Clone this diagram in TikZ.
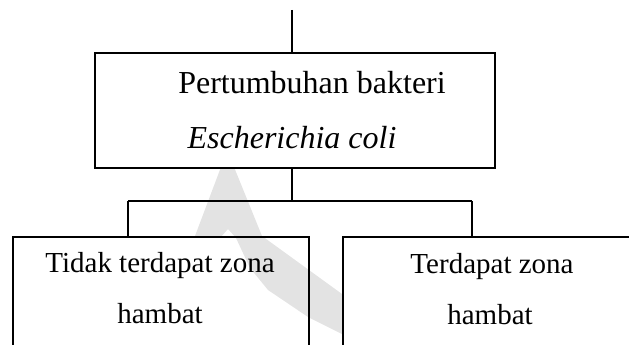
\documentclass[tikz,border=0pt]{standalone}
\usepackage{fontspec}
\setmainfont{Liberation Serif}
\begin{document}
\begin{tikzpicture}[x=1pt,y=-1pt,
  box/.style={draw=black, line width=1.5pt, inner sep=0pt, anchor=north west},
  link/.style={draw=black, line width=1.5pt},
  toptext/.style={font=\fontsize{32}{38}\selectfont, anchor=base, inner sep=0pt},
  lowtext/.style={font=\fontsize{29}{35}\selectfont, anchor=base, inner sep=0pt}]
\useasboundingbox (0,0) rectangle (629,345);
\clip (0,0) rectangle (629,345);

% faint logo behind the chart
\fill[black!11] (221,167) -- (234,167) -- (262,236) -- (342,294) -- (342,334)
  -- (308,317) -- (268,290) -- (250,268) -- (236,238) -- (228,229)
  -- (220,238) -- (195,236) -- cycle;

% boxes
\node[box, fill=white, minimum width=400pt, minimum height=114.5pt] (growth) at (94,52.5) {};
\node[box, minimum width=296pt, minimum height=160pt] (noz) at (12,236) {};
\node[box, fill=white, minimum width=320pt, minimum height=160pt] (yesz) at (342,236) {};

% texts
\node[toptext] (growthA) at (312,93) {Pertumbuhan bakteri};
\node[toptext] (growthB) at (292,148) {\itshape Escherichia coli};
\node[lowtext] (nozA) at (160,272) {Tidak terdapat zona};
\node[lowtext] (nozB) at (160,323) {hambat};
\node[lowtext] (yeszA) at (492,273) {Terdapat zona};
\node[lowtext] (yeszB) at (490,324) {hambat};

% connectors
\coordinate (topend) at (292,10);
\coordinate (split) at (292,201);
\coordinate (lbranch) at (128,201);
\coordinate (rbranch) at (472,201);
\draw[link] (topend) -- (topend |- growth.north);
\draw[link] (split |- growth.south) -- (split);
\draw[link] (lbranch) -- (rbranch);
\draw[link] (lbranch) -- (lbranch |- noz.north);
\draw[link] (rbranch) -- (rbranch |- yesz.north);
\end{tikzpicture}
\end{document}
